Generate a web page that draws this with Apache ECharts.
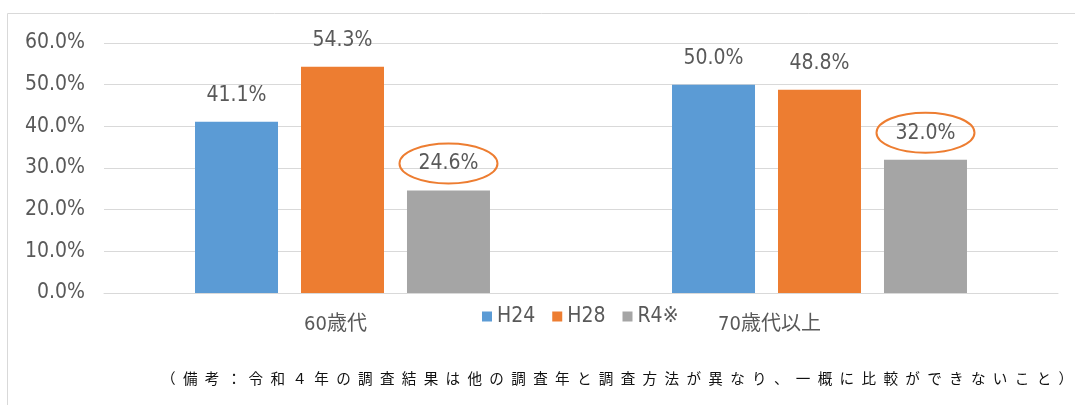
<!DOCTYPE html>
<html>
<head>
<meta charset="utf-8">
<script src="https://cdn.jsdelivr.net/npm/echarts@6/dist/echarts.min.js"></script>
<style>html,body{margin:0;padding:0;background:#fff}#c{width:1075px;height:405px}</style>
</head>
<body>
<div id="c"></div>
<script>
const categories = ['60歳代', '70歳代以上'];
const seriesNames = ['H24', 'H28', 'R4※'];
const H24 = [0.411, 0.500];
const H28 = [0.543, 0.488];
const R4 = [0.246, 0.320];
const highlightSeries = 2; // R4 labels are circled
const note = '（備考：令和４年の調査結果は他の調査年と調査方法が異なり、一概に比較ができないこと）';

const FONT = "'Liberation Sans Narrow', 'DejaVu Sans Condensed', 'Noto Sans CJK JP', sans-serif";
const TXT = '#595959';
const colors = ['#5b9bd5', '#ed7d31', '#a5a5a5'];
const pct = v => (v * 100).toFixed(1) + '%';

function mkSeries(name, data, i) {
  return {
    name: name, type: 'bar', data: data, barWidth: 83, barGap: '27.7%',
    itemStyle: { color: colors[i] },
    label: { show: true, position: 'top', distance: 16, formatter: p => pct(p.value),
      color: TXT, fontSize: 21, fontFamily: FONT }
  };
}

const chart = echarts.init(document.getElementById('c'), null, { renderer: 'canvas' });
const option = {
  animation: false,
  grid: { left: 104, right: 17, top: 43, bottom: 112, containLabel: false },
  legend: {
    data: seriesNames, left: 477, top: 301, itemWidth: 10, itemHeight: 10, itemGap: 17,
    icon: 'rect', textStyle: { color: TXT, fontSize: 21, fontFamily: FONT }
  },
  xAxis: {
    type: 'category', data: categories,
    axisLine: { lineStyle: { color: '#d9d9d9', width: 1 } },
    axisTick: { show: false },
    axisLabel: {
      margin: 22, color: TXT, fontFamily: FONT, fontSize: 20,
      formatter: (v, i) => i === 0 ? '{a|' + v + '}' : '{b|' + v + '}',
      rich: {
        a: { color: TXT, fontFamily: FONT, fontSize: 20, padding: [0, 14, 0, 0] },
        b: { color: TXT, fontFamily: FONT, fontSize: 20, padding: [0, 100, 0, 0] }
      }
    }
  },
  yAxis: {
    type: 'value', min: 0, max: 0.6, interval: 0.1,
    axisLine: { show: false }, axisTick: { show: false },
    splitLine: { lineStyle: { color: '#d9d9d9', width: 1 } },
    axisLabel: { margin: 19, color: TXT, fontSize: 21, fontFamily: FONT, formatter: v => pct(v) }
  },
  series: [mkSeries(seriesNames[0], H24, 0), mkSeries(seriesNames[1], H28, 1), mkSeries(seriesNames[2], R4, 2)],
  graphic: [
    { type: 'rect', shape: { x: 7.5, y: 13.5, width: 1200, height: 600 },
      style: { fill: 'none', stroke: '#d9d9d9', lineWidth: 1 }, silent: true },
    { type: 'text', left: 161, top: 371,
      style: { text: Array.from(note).join('\u2002'), fill: '#111', fontSize: 14.6,
        fontFamily: "'Noto Sans CJK JP', sans-serif" } }
  ]
};
chart.setOption(option);

// circle the highlighted series' labels, positioned from the bar layout
const data = chart.getModel().getSeriesByIndex(highlightSeries).getData();
const ell = [];
for (let i = 0; i < data.count(); i++) {
  const l = data.getItemLayout(i);
  const top = Math.min(l.y, l.y + l.height);
  ell.push({ type: 'ellipse', shape: { cx: l.x + l.width / 2, cy: top - 27, rx: 49, ry: 20 },
    style: { fill: 'none', stroke: '#ed7d31', lineWidth: 2 }, silent: true, z: 10 });
}
chart.setOption({ graphic: option.graphic.concat(ell) });
</script>
</body>
</html>
